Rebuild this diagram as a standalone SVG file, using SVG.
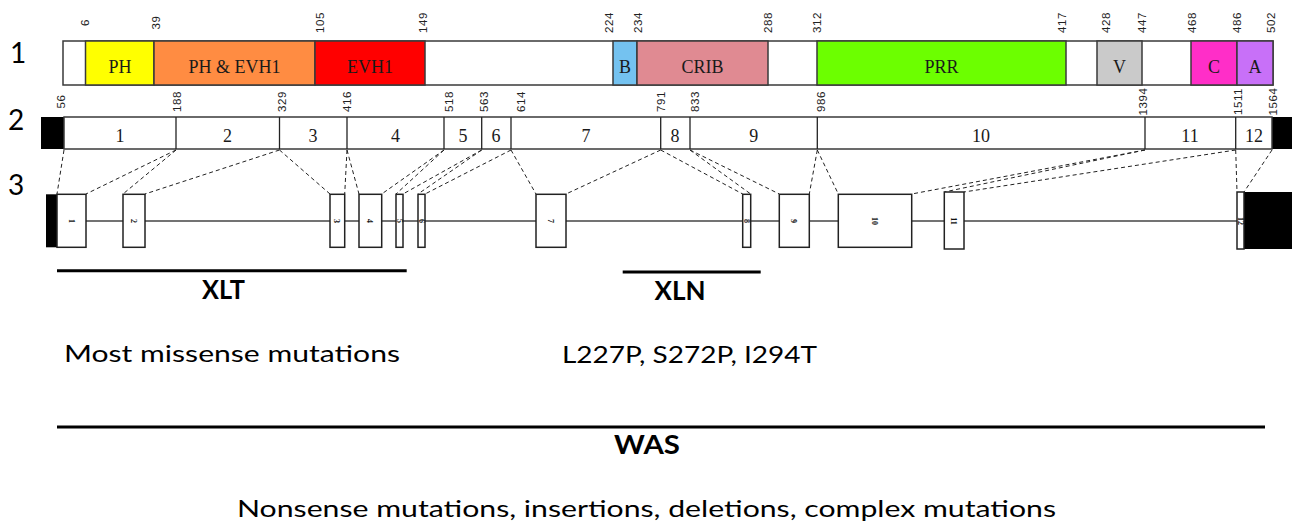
<svg xmlns="http://www.w3.org/2000/svg" width="1292" height="525" viewBox="0 0 1292 525">
<style>
.bg{fill:#ffffff}
.box{stroke:#3a3a3a;stroke-width:1.5}
.dom{font-family:"Liberation Serif",serif;font-size:18px;fill:#1a1a1a;text-anchor:middle}
.num{font-family:"Liberation Sans",sans-serif;font-size:11.5px;fill:#222;text-anchor:middle;letter-spacing:0.6px}
.ex{fill:#ffffff;stroke:#222;stroke-width:1.5}
.exl{font-family:"Liberation Serif",serif;font-size:8px;font-weight:bold;fill:#111;text-anchor:middle}
.dash{stroke:#222;stroke-width:1;stroke-dasharray:4 3;fill:none}
.row{font-family:Lato,"Open Sans",sans-serif;font-size:28px;fill:#000}
.lab{font-family:Lato,"Open Sans",sans-serif;font-size:24px;fill:#000}
.bold{font-family:Lato,"Open Sans",sans-serif;font-size:26px;font-weight:bold;fill:#000;text-anchor:middle}
.bar{stroke:#000;stroke-width:3}
</style>
<rect class="bg" x="0" y="0" width="1292" height="525"/>

<g id="row-labels">
<text class="row" x="10" y="63">1</text>
<text class="row" x="8" y="130">2</text>
<text class="row" x="8" y="195">3</text>
</g>

<g id="protein">
<rect class="box" x="63" y="41" width="1210" height="44" fill="#ffffff"/>
<rect class="box" x="85.5" y="41" width="68.5" height="44" fill="#ffff00"/>
<rect class="box" x="154" y="41" width="161" height="44" fill="#ff8c42"/>
<rect class="box" x="315" y="41" width="110" height="44" fill="#ff0000"/>
<rect class="box" x="613" y="41" width="24" height="44" fill="#74c2f0"/>
<rect class="box" x="637" y="41" width="131" height="44" fill="#e08a92"/>
<rect class="box" x="817" y="41" width="249" height="44" fill="#6cff00"/>
<rect class="box" x="1097" y="41" width="45" height="44" fill="#cacaca"/>
<rect class="box" x="1191" y="41" width="46" height="44" fill="#ff2ec8"/>
<rect class="box" x="1237" y="41" width="36" height="44" fill="#c870f8"/>
<text class="dom" x="120" y="73">PH</text>
<text class="dom" x="234.5" y="73">PH &amp; EVH1</text>
<text class="dom" x="370" y="73">EVH1</text>
<text class="dom" x="625" y="73">B</text>
<text class="dom" x="702.5" y="73">CRIB</text>
<text class="dom" x="941.5" y="73">PRR</text>
<text class="dom" x="1119.5" y="73">V</text>
<text class="dom" x="1214" y="73">C</text>
<text class="dom" x="1255" y="73">A</text>
<g id="protein-numbers">
<text class="num" transform="translate(84.5,22.5) rotate(-90)" dy="0.36em">6</text>
<text class="num" transform="translate(156,22.5) rotate(-90)" dy="0.36em">39</text>
<text class="num" transform="translate(320,22.5) rotate(-90)" dy="0.36em">105</text>
<text class="num" transform="translate(423,22.5) rotate(-90)" dy="0.36em">149</text>
<text class="num" transform="translate(609,22.5) rotate(-90)" dy="0.36em">224</text>
<text class="num" transform="translate(638,22.5) rotate(-90)" dy="0.36em">234</text>
<text class="num" transform="translate(768,22.5) rotate(-90)" dy="0.36em">288</text>
<text class="num" transform="translate(817,22.5) rotate(-90)" dy="0.36em">312</text>
<text class="num" transform="translate(1062,22.5) rotate(-90)" dy="0.36em">417</text>
<text class="num" transform="translate(1106,22.5) rotate(-90)" dy="0.36em">428</text>
<text class="num" transform="translate(1141.5,22.5) rotate(-90)" dy="0.36em">447</text>
<text class="num" transform="translate(1192,22.5) rotate(-90)" dy="0.36em">468</text>
<text class="num" transform="translate(1236.5,22.5) rotate(-90)" dy="0.36em">486</text>
<text class="num" transform="translate(1271,22.5) rotate(-90)" dy="0.36em">502</text>
</g>
</g>

<g id="mrna">
<rect x="41" y="117" width="23" height="32" fill="#000"/>
<rect x="1272" y="117" width="20" height="32" fill="#000"/>
<rect class="box" x="64" y="117" width="1208" height="32" fill="#ffffff"/>
<g stroke="#222" stroke-width="1.3">
<line x1="176" y1="117" x2="176" y2="149"/>
<line x1="279.5" y1="117" x2="279.5" y2="149"/>
<line x1="347" y1="117" x2="347" y2="149"/>
<line x1="444" y1="117" x2="444" y2="149"/>
<line x1="481.7" y1="117" x2="481.7" y2="149"/>
<line x1="511" y1="117" x2="511" y2="149"/>
<line x1="660.7" y1="117" x2="660.7" y2="149"/>
<line x1="690" y1="117" x2="690" y2="149"/>
<line x1="817.3" y1="117" x2="817.3" y2="149"/>
<line x1="1145" y1="117" x2="1145" y2="149"/>
<line x1="1235.7" y1="117" x2="1235.7" y2="149"/>
</g>
<text class="dom" x="120" y="142">1</text>
<text class="dom" x="227.5" y="142">2</text>
<text class="dom" x="313" y="142">3</text>
<text class="dom" x="395.5" y="142">4</text>
<text class="dom" x="463" y="142">5</text>
<text class="dom" x="496" y="142">6</text>
<text class="dom" x="586" y="142">7</text>
<text class="dom" x="675" y="142">8</text>
<text class="dom" x="753.7" y="142">9</text>
<text class="dom" x="981" y="142">10</text>
<text class="dom" x="1190" y="142">11</text>
<text class="dom" x="1254" y="142">12</text>
<g id="mrna-numbers">
<text class="num" transform="translate(61,101.5) rotate(-90)" dy="0.36em">56</text>
<text class="num" transform="translate(177,101.5) rotate(-90)" dy="0.36em">188</text>
<text class="num" transform="translate(281.5,101.5) rotate(-90)" dy="0.36em">329</text>
<text class="num" transform="translate(346.5,101.5) rotate(-90)" dy="0.36em">416</text>
<text class="num" transform="translate(448.5,101.5) rotate(-90)" dy="0.36em">518</text>
<text class="num" transform="translate(483.5,101.5) rotate(-90)" dy="0.36em">563</text>
<text class="num" transform="translate(520.5,101.5) rotate(-90)" dy="0.36em">614</text>
<text class="num" transform="translate(660.5,101.5) rotate(-90)" dy="0.36em">791</text>
<text class="num" transform="translate(694.5,101.5) rotate(-90)" dy="0.36em">833</text>
<text class="num" transform="translate(821,101.5) rotate(-90)" dy="0.36em">986</text>
<text class="num" transform="translate(1143,101.5) rotate(-90)" dy="0.36em">1394</text>
<text class="num" transform="translate(1237.5,101.5) rotate(-90)" dy="0.36em">1511</text>
<text class="num" transform="translate(1273,101.5) rotate(-90)" dy="0.36em">1564</text>
</g>
</g>

<g id="connectors">
<line class="dash" x1="64" y1="150" x2="57" y2="194"/>
<line class="dash" x1="176" y1="150" x2="86" y2="194"/>
<line class="dash" x1="176" y1="150" x2="123" y2="194"/>
<line class="dash" x1="279.5" y1="150" x2="145" y2="194"/>
<line class="dash" x1="279.5" y1="150" x2="330" y2="194"/>
<line class="dash" x1="347" y1="150" x2="344.7" y2="194"/>
<line class="dash" x1="347" y1="150" x2="359" y2="194"/>
<line class="dash" x1="444" y1="150" x2="381.7" y2="194"/>
<line class="dash" x1="444" y1="150" x2="396" y2="194"/>
<line class="dash" x1="481.7" y1="150" x2="403" y2="194"/>
<line class="dash" x1="481.7" y1="150" x2="418" y2="194"/>
<line class="dash" x1="511" y1="150" x2="425" y2="194"/>
<line class="dash" x1="511" y1="150" x2="536" y2="194"/>
<line class="dash" x1="660.7" y1="150" x2="566" y2="194"/>
<line class="dash" x1="660.7" y1="150" x2="742.7" y2="194"/>
<line class="dash" x1="690" y1="150" x2="750.7" y2="194"/>
<line class="dash" x1="690" y1="150" x2="779.3" y2="194"/>
<line class="dash" x1="817.3" y1="150" x2="809.3" y2="194"/>
<line class="dash" x1="817.3" y1="150" x2="838.3" y2="194"/>
<line class="dash" x1="1145" y1="150" x2="911.7" y2="194"/>
<line class="dash" x1="1145" y1="150" x2="944.3" y2="192"/>
<line class="dash" x1="1235.7" y1="150" x2="964" y2="192"/>
<line class="dash" x1="1235.7" y1="150" x2="1237" y2="192"/>
<line class="dash" x1="1272" y1="150" x2="1244" y2="192"/>
</g>

<g id="gene">
<line x1="86" y1="221" x2="1237" y2="221" stroke="#444" stroke-width="1.6"/>
<rect x="46" y="194.3" width="11" height="53" fill="#000"/>
<rect x="1244" y="192" width="48" height="57" fill="#000"/>
<g id="exon1"><rect class="ex" x="57" y="194.3" width="29" height="53"/><text class="exl" transform="translate(71.5,221) rotate(90)" dy="0.35em">1</text></g>
<g id="exon2"><rect class="ex" x="123" y="194.3" width="22" height="53"/><text class="exl" transform="translate(134,221) rotate(90)" dy="0.35em">2</text></g>
<g id="exon3"><rect class="ex" x="330" y="194.3" width="14.7" height="53"/><text class="exl" transform="translate(337.3,221) rotate(90)" dy="0.35em">3</text></g>
<g id="exon4"><rect class="ex" x="359" y="194.3" width="22.7" height="53"/><text class="exl" transform="translate(370.3,221) rotate(90)" dy="0.35em">4</text></g>
<g id="exon5"><rect class="ex" x="396" y="194.3" width="7" height="53"/><text class="exl" transform="translate(399.5,221) rotate(90)" dy="0.35em">5</text></g>
<g id="exon6"><rect class="ex" x="418" y="194.3" width="7" height="53"/><text class="exl" transform="translate(421.5,221) rotate(90)" dy="0.35em">6</text></g>
<g id="exon7"><rect class="ex" x="536" y="194.3" width="30" height="53"/><text class="exl" transform="translate(551,221) rotate(90)" dy="0.35em">7</text></g>
<g id="exon8"><rect class="ex" x="742.7" y="194.3" width="8" height="53"/><text class="exl" transform="translate(746.7,221) rotate(90)" dy="0.35em">8</text></g>
<g id="exon9"><rect class="ex" x="779.3" y="194.3" width="30" height="53"/><text class="exl" transform="translate(794.3,221) rotate(90)" dy="0.35em">9</text></g>
<g id="exon10"><rect class="ex" x="838.3" y="194.3" width="73.4" height="53"/><text class="exl" transform="translate(875,221) rotate(90)" dy="0.35em">10</text></g>
<g id="exon11"><rect class="ex" x="944.3" y="192" width="19.7" height="57"/><text class="exl" transform="translate(954,221) rotate(90)" dy="0.35em">11</text></g>
<g id="exon12"><rect class="ex" x="1237" y="192" width="7" height="57"/><text class="exl" transform="translate(1240.5,221) rotate(90)" dy="0.35em">12</text></g>
</g>

<g id="xlt">
<line class="bar" x1="57" y1="270.7" x2="406.7" y2="270.7"/>
<text class="bold" x="223.5" y="299" textLength="43" lengthAdjust="spacingAndGlyphs">XLT</text>
<text class="lab" x="64" y="362" textLength="336" lengthAdjust="spacingAndGlyphs">Most missense mutations</text>
</g>
<g id="xln">
<line class="bar" x1="622.7" y1="272" x2="760.7" y2="272"/>
<text class="bold" x="680" y="300" textLength="51" lengthAdjust="spacingAndGlyphs">XLN</text>
<text class="lab" x="562" y="363" textLength="255" lengthAdjust="spacingAndGlyphs">L227P, S272P, I294T</text>
</g>
<g id="was">
<line class="bar" x1="57" y1="427" x2="1265" y2="427"/>
<text class="bold" x="647" y="454" textLength="66" lengthAdjust="spacingAndGlyphs">WAS</text>
<text class="lab" x="237" y="517" textLength="819" lengthAdjust="spacingAndGlyphs">Nonsense mutations, insertions, deletions, complex mutations</text>
</g>
</svg>
